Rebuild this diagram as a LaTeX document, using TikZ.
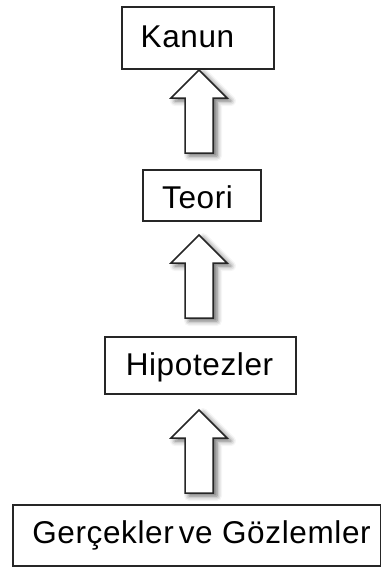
\documentclass[tikz,border=0pt]{standalone}
\usepackage{fontspec}
\setmainfont{Liberation Sans}[LetterSpace=2]
\usetikzlibrary{shadows.blur}
\begin{document}
\begin{tikzpicture}[x=1pt,y=1pt,
  box/.style={draw=black!85, line width=1.6pt, fill=white, inner sep=0pt},
  lbl/.style={anchor=base, inner sep=0pt, font=\fontsize{31.5}{31.5}\selectfont, text=black},
  blockarrow/.style={draw=black!85, line width=1.5pt, fill=white, line join=miter,
    blur shadow={shadow xshift=4pt, shadow yshift=-3pt, shadow blur radius=5pt, shadow opacity=60}},
  uparrow/.pic={\path[blockarrow] (0,0) -- (28,-28) -- (14,-28) -- (14,-83) -- (-14,-83) -- (-14,-28) -- (-28,-28) -- cycle;}
]
\useasboundingbox (0,0) rectangle (382,-570);
\node[box, minimum width=152pt, minimum height=62pt] (kanun) at (198,-38) {};
\node[lbl] (kanunT) at (187.5,-47) {Kanun};
\node[box, minimum width=118pt, minimum height=51pt] (teori) at (202,-195.5) {};
\node[lbl] (teoriT) at (197.5,-208) {Teori};
\node[box, minimum width=191pt, minimum height=57pt] (hipo) at (200.5,-365.5) {};
\node[lbl] (hipoT) at (199.5,-375) {Hipotezler};
\node[box, minimum width=367.5pt, minimum height=61pt] (gozlem) at (196.75,-535.5) {};
\node[lbl] (gozlemT) at (201.5,-543) {Gerçekler\hspace{5pt}ve Gözlemler};
\coordinate (a1) at (199,-70);
\coordinate (a2) at (199,-235);
\coordinate (a3) at (199,-410);
\pic at (a1) {uparrow};
\pic at (a2) {uparrow};
\pic at (a3) {uparrow};
\end{tikzpicture}
\end{document}
